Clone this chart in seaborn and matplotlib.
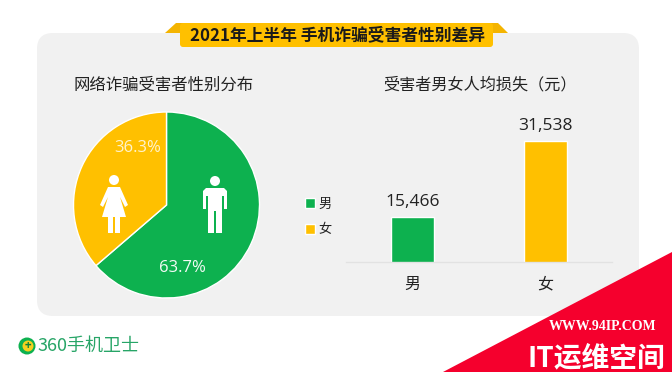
import matplotlib
matplotlib.use("Agg")
import matplotlib.pyplot as plt
from matplotlib.patches import Circle, FancyBboxPatch, Polygon
import seaborn as sns

# data
gender_labels = ["男", "女"]
share_pct = [63.7, 36.3]
avg_loss = [15466, 31538]

title = "2021年上半年 手机诈骗受害者性别差异"
pie_title = "网络诈骗受害者性别分布"
bar_title = "受害者男女人均损失（元）"

GREEN = "#0DB14F"
YELLOW = "#FFC000"
W, H = 672, 372

sns.set_theme(style="white")
plt.rcParams["font.family"] = ["Noto Sans CJK SC", "DejaVu Sans"]

fig = plt.figure(figsize=(W / 100, H / 100), dpi=100, facecolor="white")


def px_axes(left, top, width, height):
    return fig.add_axes([left / W, 1 - (top + height) / H, width / W, height / H])


# --- background layer, in pixel coordinates ---
bg = px_axes(0, 0, W, H)
bg.set_xlim(0, W)
bg.set_ylim(H, 0)
bg.axis("off")
bg.add_patch(FancyBboxPatch((37, 33), 602, 283, boxstyle="round,pad=0,rounding_size=16",
                            fc="#F1F1F1", ec="none"))
# title ribbon
bg.add_patch(Polygon([(165, 33), (176, 23), (498, 23), (508, 33)], fc="#F4B400", ec="none"))
bg.add_patch(FancyBboxPatch((180, 23), 313, 24, boxstyle="round,pad=0,rounding_size=3",
                            fc=YELLOW, ec="none"))
bg.text(337, 35, title, ha="center", va="center", fontsize=12.1, fontweight="bold", color="#1a1a1a")
bg.text(163.5, 85, pie_title, ha="center", va="center", fontsize=11.8, color="#222222")
bg.text(480, 85, bar_title, ha="center", va="center", fontsize=11.6, color="#222222")

# logo
bg.add_patch(Circle((27, 346), 8.5, fc=GREEN, ec="none"))
bg.add_patch(Circle((28, 346), 5.5, fc="#F6D11E", ec="none"))
bg.text(28, 345.5, "+", ha="center", va="center", fontsize=8, fontweight="bold", color="#0B7F3A")
bg.text(37, 346, "360手机卫士", ha="left", va="center", fontsize=13, fontweight="light", color="#27A567")

# watermark corner
bg.add_patch(Polygon([(W, 252), (W, H), (443, H)], fc="#F5002D", ec="none"))
bg.text(603, 327, "WWW.94IP.COM", ha="center", va="center", fontsize=10, fontweight="bold",
        family="Liberation Serif", color="white")
bg.text(596, 358, "IT运维空间", ha="center", va="center", fontsize=20, fontweight="bold", color="white")

# --- pie ---
pie_ax = px_axes(73.5, 112, 186, 186)
wedges, _ = pie_ax.pie(share_pct, colors=[GREEN, YELLOW], startangle=90, counterclock=False, radius=1)
pie_ax.set_xlim(-1, 1)
pie_ax.set_ylim(-1, 1)
pie_ax.text(0.17, -0.68, f"{share_pct[0]}%", ha="center", va="center", fontsize=12,
            family="Open Sans", color="#F4FBF6")
pie_ax.text(-0.31, 0.61, f"{share_pct[1]}%", ha="center", va="center", fontsize=12,
            family="Open Sans", color="#FFF3CC")

# person icons, in pixel coordinates on a top layer
top = px_axes(0, 0, W, H)
top.set_xlim(0, W)
top.set_ylim(H, 0)
top.axis("off")
top.patch.set_alpha(0)


def man(cx):
    top.add_patch(Circle((cx, 181), 5, fc="white", ec="none"))
    top.add_patch(Polygon([(cx - 9, 188), (cx + 9, 188), (cx + 12, 191), (cx + 12, 209), (cx + 9, 209),
                           (cx + 9, 196), (cx + 7, 196), (cx + 7, 233), (cx + 1, 233), (cx + 1, 211),
                           (cx - 1, 211), (cx - 1, 233), (cx - 7, 233), (cx - 7, 196),
                           (cx - 9, 196), (cx - 9, 209), (cx - 12, 209), (cx - 12, 191)],
                          fc="white", ec="none"))


def woman(cx):
    top.add_patch(Circle((cx, 180), 5, fc="white", ec="none"))
    top.add_patch(Polygon([(cx - 6, 187), (cx + 6, 187), (cx + 14, 205), (cx + 11, 207), (cx + 6, 197),
                           (cx + 12, 217), (cx + 6, 217), (cx + 6, 233), (cx + 1, 233), (cx + 1, 217),
                           (cx - 1, 217), (cx - 1, 233), (cx - 6, 233), (cx - 6, 217), (cx - 12, 217),
                           (cx - 6, 197), (cx - 11, 207), (cx - 14, 205)], fc="white", ec="none"))


man(215)
woman(114)

# --- bars: the axis does not start at zero, which is how the picture draws them ---
bar_ax = px_axes(346, 100, 266, 162)
sns.barplot(x=gender_labels, y=avg_loss, hue=gender_labels, palette=[GREEN, YELLOW],
            legend=False, width=0.32, saturation=1, ax=bar_ax)
bar_ax.set_ylim(5950, 40210)
bar_ax.patch.set_alpha(0)
sns.despine(ax=bar_ax, left=True)
bar_ax.spines["bottom"].set_color("#E2E2E2")
bar_ax.spines["bottom"].set_linewidth(1)
bar_ax.set_yticks([])
bar_ax.set_xlabel("")
bar_ax.set_ylabel("")
bar_ax.tick_params(axis="x", length=0, pad=10, labelsize=11.5, labelcolor="#222222")
for c in bar_ax.containers:
    bar_ax.bar_label(c, fmt="{:,.0f}", padding=5, fontsize=12.5, family="Open Sans", color="#222222")

# legend for both charts
fig.legend(wedges, gender_labels, loc="center left", bbox_to_anchor=(293 / W, 1 - 217 / H), frameon=False,
           fontsize=9.5, handlelength=0.8, handleheight=0.8, handletextpad=0.2, labelspacing=0.95,
           labelcolor="#222222")

fig.savefig("out.png", dpi=100)
